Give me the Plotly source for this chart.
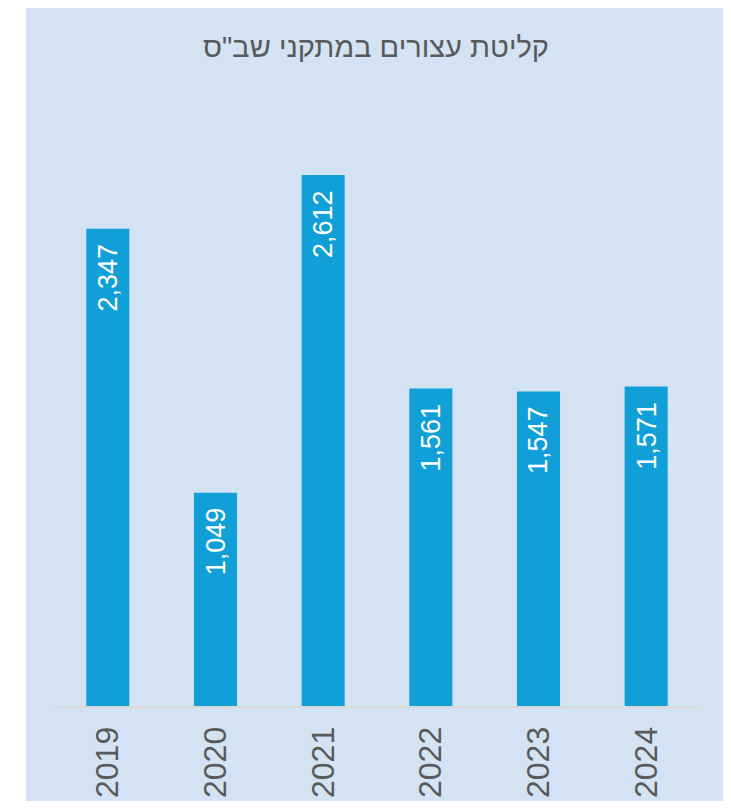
import plotly.graph_objects as go

years = ["2019", "2020", "2021", "2022", "2023", "2024"]
values = [2347, 1049, 2612, 1561, 1547, 1571]
title_text = "קליטת עצורים במתקני שב\"ס"

BAR = "#119FD7"
BG = "#D3E3F4"
TXT = "#595959"
FONT = "Liberation Sans, Arial, sans-serif"

# page body has an 8px default margin -> figure sized to fit the window exactly
W, H = 715, 793

fig = go.Figure()
fig.add_trace(go.Bar(x=years, y=values, marker=dict(color=BAR, line=dict(width=0)),
                     hoverinfo="skip"))

for i, v in enumerate(values):
    fig.add_annotation(x=i, y=v, xref="x", yref="y", text=f"{v:,}", textangle=-90,
                       showarrow=False, yanchor="top", xanchor="center", yshift=-13,
                       font=dict(family=FONT, size=27, color="white"))

fig.add_shape(type="rect", xref="paper", yref="paper", x0=-0.0433, x1=1.06,
              y0=-0.2, y1=1.2, fillcolor=BG, line=dict(width=0), layer="below")

fig.update_layout(
    width=W, height=H,
    paper_bgcolor="white", plot_bgcolor="rgba(0,0,0,0)",
    margin=dict(l=46, r=23, t=88, b=95, autoexpand=False),
    bargap=0.6,
    showlegend=False,
    title=dict(text=title_text, x=368 / W, xanchor="center",
               y=1 - 39 / H, yanchor="middle", yref="container",
               font=dict(family=FONT, size=29, color=TXT)),
    xaxis=dict(type="category", automargin=False, showgrid=False, showline=True,
               linecolor="#D9D9D9", linewidth=2, tickangle=-90, ticks="",
               ticklabelstandoff=6,
               tickfont=dict(family=FONT, size=32, color=TXT), zeroline=False),
    yaxis=dict(range=[0, 3000], visible=False, showgrid=False, zeroline=False),
)

fig.write_html("out.html")
